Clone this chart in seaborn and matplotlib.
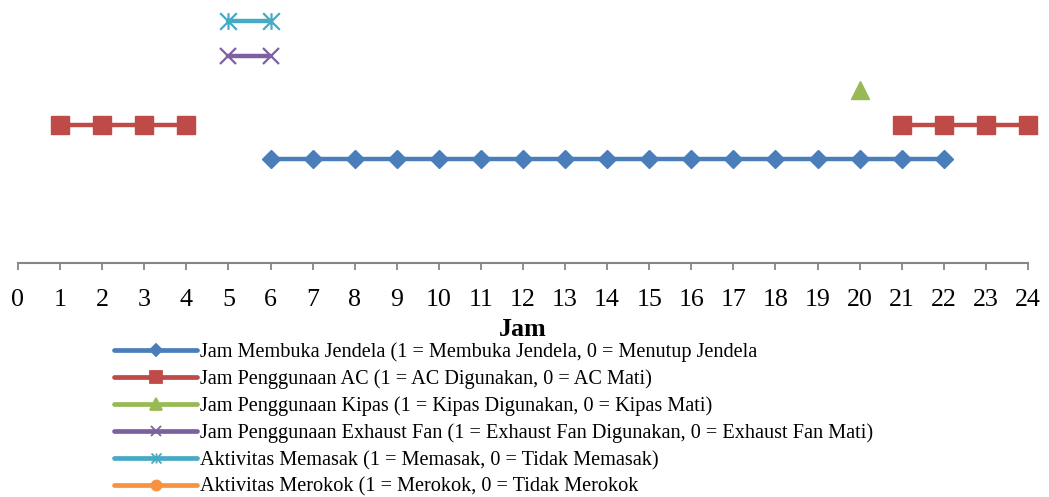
import numpy as np
import pandas as pd
import matplotlib
matplotlib.use("Agg")
import matplotlib.pyplot as plt
from matplotlib.lines import Line2D
from matplotlib.path import Path
import seaborn as sns

# Hours of the day on the x axis
hours = list(range(0, 25))

# Hours at which each activity is "on" (1); every other hour is 0
jendela_on = [6, 7, 8, 9, 10, 11, 12, 13, 14, 15, 16, 17, 18, 19, 20, 21, 22]
ac_on = [1, 2, 3, 4, 21, 22, 23, 24]
kipas_on = [20]
exhaust_on = [5, 6]
memasak_on = [5, 6]
merokok_on = []

labels = [
    "Jam Membuka Jendela (1 = Membuka Jendela, 0 = Menutup Jendela",
    "Jam Penggunaan AC (1 = AC Digunakan, 0 = AC Mati)",
    "Jam Penggunaan Kipas (1 = Kipas Digunakan, 0 = Kipas Mati)",
    "Jam Penggunaan Exhaust Fan (1 = Exhaust Fan Digunakan, 0 = Exhaust Fan Mati)",
    "Aktivitas Memasak (1 = Memasak, 0 = Tidak Memasak)",
    "Aktivitas Merokok (1 = Merokok, 0 = Tidak Merokok",
]
# Vertical row each activity is drawn on
levels = [3, 4, 5, 6, 7, 8]

colors = ["#4A7EBB", "#BE4B48", "#98B954", "#7D60A0", "#46AAC5", "#F69240"]

# x with a vertical bar through it
star_path = Path(
    [(-1, -1), (1, 1), (-1, 1), (1, -1), (0, -1), (0, 1)],
    [Path.MOVETO, Path.LINETO, Path.MOVETO, Path.LINETO, Path.MOVETO, Path.LINETO],
)
markers = ["D", "s", "^", "x", star_path, "o"]
msizes = [9.5, 13.5, 13.5, 12, 12, 12]
mfilled = [True, True, True, False, False, True]

sns.set_theme(style="white")
plt.rcParams["font.family"] = ["Liberation Serif", "DejaVu Serif"]
plt.rcParams["text.color"] = "black"
plt.rcParams["xtick.color"] = "black"

fig = plt.figure(figsize=(10.49, 4.97), dpi=100)
ax = fig.add_axes([18 / 1049, 1 - 263 / 497, 1010 / 1049, 263 / 497])

on_lists = [jendela_on, ac_on, kipas_on, exhaust_on, memasak_on, merokok_on]


def segments(on_hours):
    """Split a sorted list of hours into runs of consecutive hours."""
    runs, cur = [], []
    for h in on_hours:
        if cur and h != cur[-1] + 1:
            runs.append(cur)
            cur = []
        cur.append(h)
    if cur:
        runs.append(cur)
    return runs


for on, lvl, col, mk, ms, filled in zip(on_lists, levels, colors, markers, msizes, mfilled):
    status = pd.Series([1 if h in on else 0 for h in hours], index=hours)
    for run in segments(on):
        df = pd.DataFrame({"Jam": run, "y": status.loc[run].values * lvl})
        sns.lineplot(
            data=df, x="Jam", y="y", ax=ax, color=col, lw=3.2,
            marker=mk, markersize=ms,
            markerfacecolor=col if filled else "none",
            markeredgecolor=col, markeredgewidth=1.6 if not filled else 1,
            errorbar=None, legend=False, clip_on=False,
        )

ax.set_xlim(0, 24)
ax.set_ylim(0, 7.62)
ax.set_xticks(hours)
ax.set_yticks([])
ax.set_ylabel("")
for s in ["left", "right", "top"]:
    ax.spines[s].set_visible(False)
ax.spines["bottom"].set_color("#868686")
ax.spines["bottom"].set_linewidth(1.5)
ax.tick_params(axis="x", direction="out", length=5, width=1.3, color="#868686",
               labelsize=18.7, pad=14, labelcolor="black", bottom=True)
ax.set_xlabel("Jam", fontsize=18.7, fontweight="bold", labelpad=5, color="black")

handles = []
for lbl, col, mk, ms, filled in zip(labels, colors, markers, msizes, mfilled):
    handles.append(Line2D([], [], color=col, lw=3.4, marker=mk, markersize=ms * 0.6,
                          markerfacecolor=col if filled else "none",
                          markeredgecolor=col, markeredgewidth=1.3))

leg = fig.legend(handles, labels, loc="upper left", bbox_to_anchor=(114 / 1049, 1 - 342 / 497),
                 frameon=False, fontsize=14.6, handlelength=4.1, handletextpad=0.15,
                 labelspacing=0.37, borderpad=0, borderaxespad=0)
for t in leg.get_texts():
    t.set_color("black")

fig.savefig("out.png", dpi=100)
